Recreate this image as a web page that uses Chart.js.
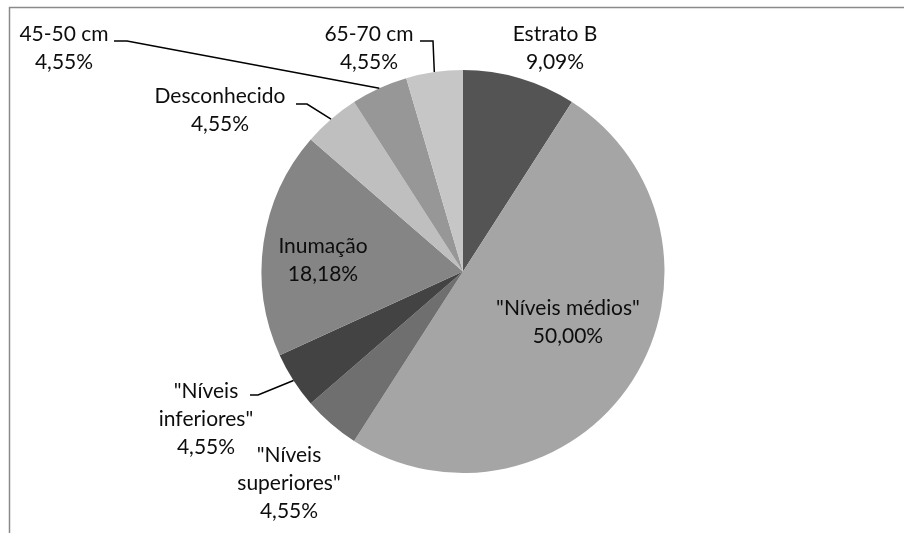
<!DOCTYPE html>
<html>
<head>
<meta charset="utf-8">
<script src="https://cdn.jsdelivr.net/npm/chart.js@4/dist/chart.umd.min.js"></script>
<style>
  html, body { margin: 0; padding: 0; background: #ffffff; }
  #wrap { width: 904px; height: 533px; }
</style>
</head>
<body>
<div id="wrap"><canvas id="c" width="904" height="533"></canvas></div>
<script>
// Categories (label lines) and their counts
const categories = [
  ['Estrato B'],
  ['"Níveis médios"'],
  ['"Níveis', 'superiores"'],
  ['"Níveis', 'inferiores"'],
  ['Inumação'],
  ['Desconhecido'],
  ['45-50 cm'],
  ['65-70 cm']
];
const counts = [2, 11, 1, 1, 4, 1, 1, 1];
const sliceColors = ['#545454', '#a5a5a5', '#6f6f6f', '#434343', '#858585', '#bfbfbf', '#979797', '#c6c6c6'];

// Where each data label sits (center x, first baseline) and, for outside labels,
// the leader line's horizontal stub (from x1 to x2 at y) before it runs to the slice edge.
const labelLayout = [
  { x: 555, y: 41 },
  { x: 568, y: 315 },
  { x: 289, y: 462 },
  { x: 206, y: 398, leader: { x1: 250, x2: 258, y: 395 } },
  { x: 323, y: 253 },
  { x: 220, y: 103, leader: { x1: 296, x2: 307, y: 104 } },
  { x: 64, y: 41, leader: { x1: 114, x2: 127, y: 41 } },
  { x: 369, y: 41, leader: { x1: 420, x2: 433, y: 41 } }
];

const total = counts.reduce((a, b) => a + b, 0);
const pctText = v => (v / total * 100).toFixed(2).replace('.', ',') + '%';

const framePlugin = {
  id: 'frame',
  beforeDraw(chart) {
    const ctx = chart.ctx;
    ctx.save();
    ctx.fillStyle = '#ffffff';
    ctx.fillRect(0, 0, chart.width, chart.height);
    ctx.strokeStyle = '#8a8a8a';
    ctx.lineWidth = 1.5;
    ctx.beginPath();
    ctx.moveTo(9.5, chart.height);
    ctx.lineTo(9.5, 7.5);
    ctx.lineTo(chart.width, 7.5);
    ctx.stroke();
    ctx.restore();
  }
};

const labelPlugin = {
  id: 'sliceLabels',
  afterDatasetsDraw(chart) {
    const ctx = chart.ctx;
    const meta = chart.getDatasetMeta(0);
    ctx.save();
    ctx.font = '21px Lato';
    ctx.textAlign = 'center';
    ctx.textBaseline = 'alphabetic';
    meta.data.forEach((arc, i) => {
      const p = arc.getProps(['x', 'y', 'startAngle', 'endAngle', 'outerRadius'], true);
      const lay = labelLayout[i];
      if (lay.leader) {
        const mid = (p.startAngle + p.endAngle) / 2;
        const ex = p.x + Math.cos(mid) * p.outerRadius;
        const ey = p.y + Math.sin(mid) * p.outerRadius;
        ctx.strokeStyle = '#000000';
        ctx.lineWidth = 1.5;
        ctx.beginPath();
        ctx.moveTo(lay.leader.x1, lay.leader.y);
        ctx.lineTo(lay.leader.x2, lay.leader.y);
        ctx.lineTo(ex, ey);
        ctx.stroke();
      }
      const lines = categories[i].concat([pctText(counts[i])]);
      ctx.fillStyle = '#0d0d0d';
      lines.forEach((t, k) => ctx.fillText(t, lay.x, lay.y + k * 28));
    });
    ctx.restore();
  }
};

new Chart(document.getElementById('c'), {
  type: 'pie',
  data: {
    labels: categories.map(c => c.join(' ')),
    datasets: [{
      data: counts,
      backgroundColor: sliceColors,
      borderWidth: 0
    }]
  },
  options: {
    responsive: false,
    animation: false,
    layout: { padding: { left: 261, right: 239, top: 70, bottom: 60 } },
    plugins: {
      legend: { display: false },
      tooltip: { enabled: false }
    }
  },
  plugins: [framePlugin, labelPlugin]
});
</script>
</body>
</html>
